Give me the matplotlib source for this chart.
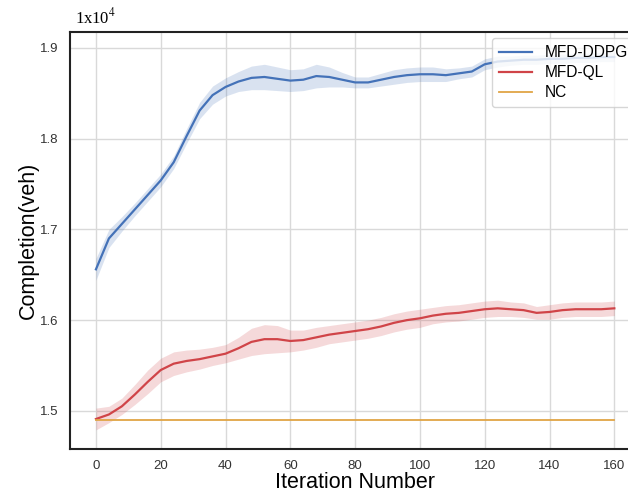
import matplotlib
matplotlib.use('Agg')
import matplotlib.pyplot as plt
import numpy as np

plt.rcParams['font.family'] = ['Liberation Sans', 'DejaVu Sans']

iters = list(range(0, 161, 4))

ddpg = [1.656, 1.690, 1.706, 1.722, 1.738, 1.754, 1.774, 1.803, 1.831, 1.848,
        1.857, 1.863, 1.867, 1.868, 1.866, 1.864, 1.865, 1.869, 1.868, 1.865,
        1.862, 1.862, 1.865, 1.868, 1.870, 1.871, 1.871, 1.870, 1.872, 1.874,
        1.882, 1.885, 1.886, 1.887, 1.887, 1.888, 1.888, 1.889, 1.889, 1.890,
        1.890]
ddpg_spread = [0.012, 0.010, 0.008, 0.007, 0.007, 0.007, 0.007, 0.008, 0.009, 0.010,
               0.010, 0.011, 0.013, 0.014, 0.013, 0.012, 0.012, 0.013, 0.011, 0.008,
               0.006, 0.006, 0.007, 0.008, 0.008, 0.008, 0.008, 0.007, 0.006, 0.006,
               0.006, 0.006, 0.005, 0.005, 0.005, 0.005, 0.005, 0.005, 0.005, 0.005,
               0.005]

ql = [1.491, 1.496, 1.505, 1.518, 1.532, 1.545, 1.552, 1.555, 1.557, 1.560,
      1.563, 1.569, 1.576, 1.579, 1.579, 1.577, 1.578, 1.581, 1.584, 1.586,
      1.588, 1.590, 1.593, 1.597, 1.600, 1.602, 1.605, 1.607, 1.608, 1.610,
      1.612, 1.613, 1.612, 1.611, 1.608, 1.609, 1.611, 1.612, 1.612, 1.612,
      1.613]
ql_spread = [0.012, 0.009, 0.009, 0.011, 0.013, 0.013, 0.013, 0.012, 0.011, 0.010,
             0.010, 0.012, 0.015, 0.016, 0.015, 0.012, 0.011, 0.011, 0.010, 0.010,
             0.010, 0.010, 0.010, 0.010, 0.010, 0.010, 0.009, 0.009, 0.009, 0.009,
             0.009, 0.009, 0.008, 0.008, 0.007, 0.008, 0.008, 0.008, 0.008, 0.008,
             0.008]

nc_x = [0, 160]
nc = [1.490, 1.490]

fig = plt.figure(figsize=(6.28, 4.92), dpi=100)
# right spine sits just past the figure edge, as in the reference crop
ax = fig.add_axes([0.1115, 0.0875, 0.908, 0.8475])

blue = '#4472b8'
red = '#d04448'
orange = '#e0a545'

x = np.array(iters)
ax.plot(x, ddpg, color=blue, lw=1.6, label='MFD-DDPG')
ax.fill_between(x, np.array(ddpg) - ddpg_spread, np.array(ddpg) + ddpg_spread,
                color=blue, alpha=0.2, lw=0)
ax.plot(x, ql, color=red, lw=1.6, label='MFD-QL')
ax.fill_between(x, np.array(ql) - ql_spread, np.array(ql) + ql_spread,
                color=red, alpha=0.2, lw=0)
ax.plot(nc_x, nc, color=orange, lw=1.3, label='NC')

ax.set_xlim(-8, 168)
ax.set_ylim(1.458, 1.9176)
ax.set_xticks(range(0, 161, 20))
ax.set_yticks([1.5, 1.6, 1.7, 1.8, 1.9])
ax.grid(True, color='#d9d9d9', lw=1)
ax.set_axisbelow(True)
for s in ax.spines.values():
    s.set_color('#222222')
    s.set_linewidth(1.5)
ax.spines['right'].set_visible(False)
ax.tick_params(length=0, labelsize=9.5, colors='#333333', pad=8)

ax.set_xlabel('Iteration Number', fontsize=15.5, labelpad=0)
ax.set_ylabel('Completion(veh)', fontsize=15.5, labelpad=1)
ax.text(0.008, 1.012, '1x10$^4$', transform=ax.transAxes, fontsize=12,
        family='Liberation Serif', math_fontfamily='stix', va='bottom', ha='left')

ax.legend(loc='upper left', bbox_to_anchor=(0.74, 0.985), borderaxespad=0,
          fontsize=11.2, labelspacing=0.32, handlelength=2.15, borderpad=0.45,
          frameon=True, edgecolor='#cccccc', fancybox=True)

fig.savefig('out.png', dpi=100)
